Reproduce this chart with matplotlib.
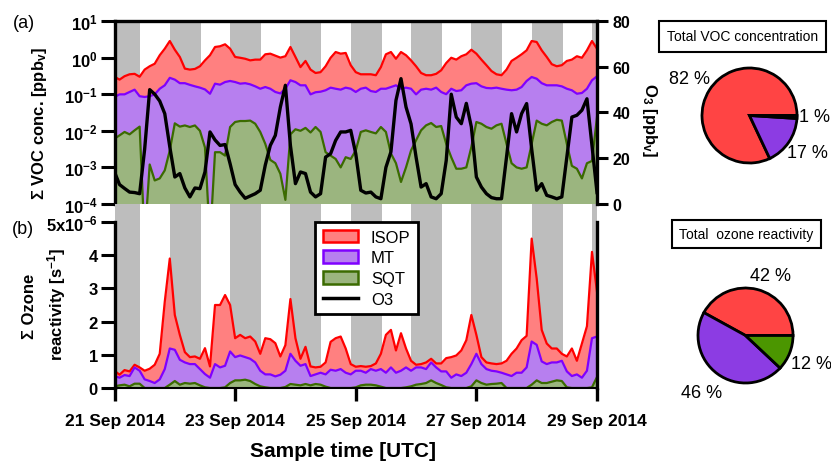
import pandas as pd
import matplotlib
matplotlib.use('Agg')
import matplotlib.pyplot as plt
import matplotlib.dates as mdates
from matplotlib.patches import Patch
from matplotlib.lines import Line2D
from matplotlib.ticker import NullLocator, FixedLocator, FixedFormatter

plt.rcParams['font.family'] = 'Liberation Sans'
plt.rcParams['font.weight'] = 'bold'
plt.rcParams['mathtext.fontset'] = 'custom'
plt.rcParams['mathtext.rm'] = 'Liberation Sans'
plt.rcParams['mathtext.bf'] = 'Liberation Sans:bold'
plt.rcParams['mathtext.default'] = 'bf'

# 2-hourly samples, 21 Sep 2014 00:00 UTC -> 29 Sep 2014 00:00 UTC
times = pd.date_range('2014-09-21 00:00', periods=97, freq='2h')

# (a) total VOC concentration [ppbv]
isop_conc = [0.30, 0.25, 0.31, 0.35, 0.36, 0.30, 0.47, 0.58, 0.68, 1.16, 1.75, 2.84,
             1.64, 1.04, 0.50, 0.47, 0.49, 0.58, 0.84, 1.16, 1.95, 2.04, 2.31, 1.75,
             1.04, 0.99, 0.93, 0.84, 0.88, 0.88, 1.23, 1.28, 1.13, 1.00, 1.09, 1.95,
             1.04, 0.55, 0.81, 0.47, 0.38, 0.40, 0.58, 0.99, 1.42, 1.28, 1.34, 0.62,
             0.40, 0.35, 0.35, 0.35, 0.33, 0.55, 1.23, 1.42, 0.93, 1.42, 1.16, 0.84,
             0.58, 0.38, 0.33, 0.33, 0.36, 0.45, 0.71, 0.99, 0.88, 1.09, 1.23, 1.64,
             1.28, 0.88, 0.62, 0.43, 0.35, 0.33, 0.47, 0.81, 0.99, 1.23, 1.58, 2.84,
             2.67, 1.58, 1.04, 0.66, 0.58, 0.62, 0.81, 0.88, 1.09, 0.99, 1.58, 2.84,
             1.75]
mt_conc = [0.084, 0.099, 0.099, 0.115, 0.133, 0.088, 0.084, 0.088, 0.099, 0.141, 0.175, 0.28,
           0.25, 0.20, 0.20, 0.18, 0.164, 0.151, 0.135, 0.103, 0.194, 0.182, 0.215, 0.23,
           0.215, 0.194, 0.20, 0.186, 0.164, 0.141, 0.157, 0.141, 0.115, 0.105, 0.141, 0.24,
           0.215, 0.175, 0.175, 0.099, 0.113, 0.117, 0.128, 0.151, 0.141, 0.133, 0.151, 0.141,
           0.115, 0.141, 0.151, 0.122, 0.115, 0.141, 0.141, 0.157, 0.175, 0.141, 0.151, 0.141,
           0.099, 0.133, 0.141, 0.133, 0.151, 0.115, 0.10, 0.141, 0.122, 0.128, 0.175, 0.194,
           0.20, 0.164, 0.148, 0.145, 0.151, 0.141, 0.133, 0.128, 0.133, 0.157, 0.23, 0.295,
           0.265, 0.20, 0.175, 0.175, 0.175, 0.164, 0.141, 0.128, 0.103, 0.108, 0.141, 0.24,
           0.308]
sqt_conc = [0.0061, 0.0075, 0.0093, 0.0080, 0.0103, 0.013, 1e-5, 0.0012, 0.00044, 0.0005, 0.00083, 0.0029,
            0.016, 0.013, 0.014, 0.0127, 0.014, 0.010, 0.0035, 1e-5, 0.0026, 0.0026, 0.0021, 0.0127,
            0.0174, 0.0185, 0.0185, 0.019, 0.0156, 0.0093, 0.0044, 0.0016, 0.0013, 0.00067, 0.00013, 0.008,
            0.011, 0.010, 0.012, 0.009, 0.0127, 0.0093, 0.0026, 0.0021, 0.0017, 0.001, 0.0019, 0.0017,
            0.0029, 0.0093, 0.0103, 0.0093, 0.0085, 0.0127, 0.0093, 0.0024, 0.0013, 0.0004, 0.001, 0.0029,
            0.0055, 0.0103, 0.0141, 0.0163, 0.0127, 0.0135, 0.0044, 0.0019, 0.00092, 0.00092, 0.001, 0.0036,
            0.0174, 0.0156, 0.0127, 0.0114, 0.0141, 0.0156, 0.0044, 0.0013, 0.001, 0.00092, 0.001, 0.0044,
            0.019, 0.0156, 0.0141, 0.0174, 0.020, 0.019, 0.0044, 0.0011, 0.00092, 0.0005, 0.0013, 0.0015,
            0.024]
o3 = [14, 8.5, 6.8, 5.2, 5.0, 4.5, 24, 50, 48, 45, 39.5, 25,
      11.8, 13.3, 7, 3.1, 7, 6.7, 14, 31.5, 28, 25.6, 26, 17.6,
      8.5, 5.2, 2.5, 3.5, 4.5, 6, 17, 25.6, 30, 42.4, 51.9, 25.6,
      8.9, 14, 13.3, 5.2, 3.1, 4.5, 20.5, 22, 27.8, 31.5, 31.5, 32.2,
      22, 6, 4.8, 5.2, 3.1, 2.3, 16, 22.8, 45.3, 54.8, 42.4, 35,
      20.5, 7.4, 8.9, 3.1, 2.3, 4.5, 19, 48, 38, 35.1, 44, 33.7,
      11.8, 7.4, 4.5, 2.8, 2.3, 2.3, 20.5, 39.5, 31.5, 39.5, 43.9, 24.1,
      6, 8.9, 3.8, 3.1, 2.3, 3.1, 20.5, 38, 38.8, 41, 46, 25.6,
      5]

# (b) ozone reactivity [1e-6 s-1]
isop_react = [0.52, 0.40, 0.54, 0.50, 0.70, 0.62, 0.52, 0.58, 0.70, 1.03, 2.6, 3.9,
              2.2, 1.6, 1.08, 0.93, 0.95, 0.88, 1.2, 0.65, 2.5, 2.5, 2.8, 2.5,
              1.5, 1.6, 1.5, 1.55, 1.4, 1.03, 1.5, 1.47, 1.35, 0.95, 1.29, 2.68,
              1.5, 0.88, 1.24, 0.65, 0.62, 0.64, 0.77, 1.39, 1.5, 1.55, 1.19, 0.72,
              0.64, 0.66, 0.64, 0.66, 0.74, 1.03, 1.6, 1.75, 1.13, 1.65, 1.19, 0.82,
              0.70, 0.72, 0.77, 0.88, 0.74, 0.74, 0.9, 0.93, 0.98, 1.13, 1.44, 2.2,
              1.6, 0.93, 0.77, 0.74, 0.72, 0.74, 0.82, 1.03, 1.19, 1.44, 1.57, 4.5,
              3.3, 1.75, 1.34, 1.19, 1.19, 1.03, 0.95, 1.19, 0.82, 1.34, 1.86, 4.1,
              2.9]
mt_react = [0.36, 0.31, 0.39, 0.36, 0.62, 0.52, 0.26, 0.21, 0.15, 0.26, 0.57, 1.19,
            1.15, 0.85, 0.77, 0.72, 0.72, 0.57, 0.42, 0.31, 0.72, 0.62, 0.67, 1.1,
            0.93, 0.98, 0.93, 0.88, 0.77, 0.52, 0.41, 0.41, 0.35, 0.40, 0.52, 1.03,
            0.82, 0.67, 0.72, 0.36, 0.41, 0.46, 0.41, 0.55, 0.52, 0.57, 0.46, 0.41,
            0.52, 0.52, 0.46, 0.57, 0.52, 0.57, 0.46, 0.62, 0.46, 0.52, 0.62, 0.52,
            0.62, 0.62, 0.57, 0.77, 0.62, 0.5, 0.5, 0.31, 0.41, 0.36, 0.46, 0.72,
            1.03, 0.72, 0.57, 0.52, 0.5, 0.46, 0.41, 0.36, 0.46, 0.46, 0.62, 1.4,
            1.3, 0.8, 0.72, 0.77, 0.77, 0.82, 0.5, 0.36, 0.41, 0.31, 0.52, 1.5,
            1.55]
sqt_react = [0.05, 0.08, 0.1, 0.05, 0.13, 0.13, 0.0, 0.0, 0.0, 0.0, 0.0, 0.1,
             0.21, 0.1, 0.15, 0.13, 0.15, 0.08, 0.02, 0.0, 0.0, 0.0, 0.02, 0.15,
             0.23, 0.23, 0.25, 0.21, 0.12, 0.05, 0.02, 0.0, 0.0, 0.0, 0.03, 0.12,
             0.1, 0.08, 0.12, 0.08, 0.12, 0.1, 0.04, 0.0, 0.0, 0.0, 0.0, 0.0,
             0.02, 0.08, 0.1, 0.1, 0.08, 0.04, 0.0, 0.0, 0.0, 0.0, 0.02, 0.05,
             0.1, 0.12, 0.15, 0.23, 0.15, 0.09, 0.02, 0.0, 0.0, 0.0, 0.0, 0.05,
             0.23, 0.15, 0.1, 0.12, 0.13, 0.15, 0.0, 0.0, 0.0, 0.0, 0.0, 0.1,
             0.23, 0.15, 0.15, 0.19, 0.23, 0.21, 0.02, 0.0, 0.0, 0.0, 0.0, 0.02,
             0.33]

# pie shares [%]: ISOP, MT, SQT
voc_share = [82, 17, 1]
react_share = [42, 46, 12]

night_start_h, night_end_h = 22.0, 10.3  # UTC

red_line, red_fill = '#FF0000', '#FF8080'
mt_line, mt_fill = '#7F00FF', '#B77FEF'
sqt_line, sqt_fill = '#3B6B00', '#9BB57F'
gray = '#BDBDBD'
pie_colors = ['#FF4444', '#8C3CE3', '#4B9600']

W, H = 831, 464
fig = plt.figure(figsize=(W / 100, H / 100), dpi=100)


def box(l, t, r, b):
    return [l / W, 1 - b / H, (r - l) / W, (b - t) / H]


ax1 = fig.add_axes(box(114.5, 22, 597, 205))
ax2 = fig.add_axes(box(114.5, 205, 597, 389))

t0 = times[0]
for d in range(-1, 9):
    a = t0 + pd.Timedelta(days=d, hours=night_start_h)
    b = t0 + pd.Timedelta(days=d + 1, hours=night_end_h)
    for ax in (ax1, ax2):
        ax.axvspan(a, b, color=gray, lw=0, zorder=0)

# top panel
for vals, lc, fc in [(isop_conc, red_line, red_fill), (mt_conc, mt_line, mt_fill),
                     (sqt_conc, sqt_line, sqt_fill)]:
    ax1.fill_between(times, 1e-6, vals, color=fc, lw=0, zorder=1)
    ax1.plot(times, vals, color=lc, lw=1.6, zorder=2)
ax1.set_yscale('log')
ax1.set_ylim(1e-4, 10)
ax1.set_yticks([1e-4, 1e-3, 1e-2, 1e-1, 1, 10])
ax1.yaxis.set_minor_locator(NullLocator())
ax1.set_xlim(times[0], times[-1])
ax1.tick_params(axis='x', bottom=False, labelbottom=False)
ax1.tick_params(axis='y', direction='out', length=10, width=2.2, labelsize=12, pad=2)
ax1.spines['bottom'].set_visible(False)
ax1.spines['right'].set_visible(False)
ax1.spines['top'].set_linewidth(2.4)
ax1.spines['left'].set_linewidth(2.4)

ax3 = ax1.twinx()
ax3.plot(times, o3, color='black', lw=2.4)
ax3.set_ylim(0, 80)
ax3.set_yticks([0, 20, 40, 60, 80])
ax3.set_xlim(times[0], times[-1])
ax3.tick_params(axis='y', direction='out', length=8, width=2.2, labelsize=11.5, pad=3)
for s in ['top', 'bottom', 'left']:
    ax3.spines[s].set_visible(False)
ax3.spines['right'].set_linewidth(2.4)

# bottom panel
for vals, lc, fc in [(isop_react, red_line, red_fill), (mt_react, mt_line, mt_fill),
                     (sqt_react, sqt_line, sqt_fill)]:
    ax2.fill_between(times, 0, vals, color=fc, lw=0, zorder=1)
    ax2.plot(times, vals, color=lc, lw=1.6, zorder=2)
ax2.set_ylim(0, 5 * (389 - 205) / (389 - 223))
ax2.yaxis.set_major_locator(FixedLocator([0, 1, 2, 3, 4, 5]))
ax2.yaxis.set_major_formatter(FixedFormatter(['0', '1', '2', '3', '4', '5x10$^{-6}$']))
ax2.set_xlim(times[0], times[-1])
ax2.xaxis.set_major_locator(mdates.DayLocator(bymonthday=[21, 23, 25, 27, 29]))
ax2.xaxis.set_major_formatter(mdates.DateFormatter('%d %b %Y'))
ax2.tick_params(axis='y', direction='out', length=10, width=2.2, labelsize=12, pad=2)
ax2.tick_params(axis='x', direction='out', length=9, width=2.4, labelsize=12.5, pad=9)
ax2.spines['top'].set_visible(False)
ax2.spines['left'].set_bounds(0, 5)
ax2.spines['right'].set_bounds(0, 5)
ax2.spines['left'].set_linewidth(2.4)
ax2.spines['right'].set_linewidth(2.4)
ax2.spines['bottom'].set_linewidth(1.5)

handles = [Patch(facecolor=red_fill, edgecolor=red_line, lw=1.8, label='ISOP'),
           Patch(facecolor=mt_fill, edgecolor=mt_line, lw=1.8, label='MT'),
           Patch(facecolor=sqt_fill, edgecolor=sqt_line, lw=1.8, label='SQT'),
           Line2D([], [], color='black', lw=2.5, label='O3')]
leg = ax2.legend(handles=handles, loc='upper left',
                 bbox_to_anchor=((315 - 114.5) / 482.5, (389 - 223) / 184),
                 borderaxespad=0, frameon=True, fancybox=False, edgecolor='black',
                 framealpha=1, prop={'size': 12, 'weight': 'normal'},
                 handlelength=2.1, handleheight=0.8, borderpad=0.45,
                 labelspacing=0.33, handletextpad=0.8)
leg.get_frame().set_linewidth(2)
leg.set_zorder(5)

# text labels
fig.text(24 / W, 1 - 23 / H, '(a)', ha='center', va='center', fontsize=13, weight='normal')
fig.text(23 / W, 1 - 230 / H, '(b)', ha='center', va='center', fontsize=13, weight='normal')
fig.text(40 / W, 1 - 124 / H, 'Σ VOC conc. [ppb$_v$]', rotation=90, ha='center', va='center', fontsize=12)
fig.text(650 / W, 1 - 120 / H, 'O$_3$ [ppb$_v$]', rotation=270, ha='center', va='center', fontsize=12)
fig.text(29 / W, 1 - 306 / H, 'Σ Ozone', rotation=90, ha='center', va='center', fontsize=12)
fig.text(57 / W, 1 - 305 / H, 'reactivity [s$^{-1}$]', rotation=90, ha='center', va='center', fontsize=12)
fig.text(343 / W, 1 - 452 / H, 'Sample time [UTC]', ha='center', va='center', fontsize=15)

fig.text(742.5 / W, 1 - 37.5 / H, 'Total VOC concentration', ha='center', va='center',
         fontsize=10, weight='normal',
         bbox=dict(boxstyle='square,pad=0.6', fc='white', ec='black', lw=1.5))
fig.text(746.5 / W, 1 - 235 / H, 'Total  ozone reactivity', ha='center', va='center',
         fontsize=10, weight='normal',
         bbox=dict(boxstyle='square,pad=0.5', fc='white', ec='black', lw=1.5))

# pies, with the percentage labels placed where the reference has them
voc_label_pos = [(-1.27, 0.77), (1.22, -0.78), (1.37, -0.03)]
react_label_pos = [(0.52, 1.27), (-0.93, -1.19), (1.38, -0.59)]
for share, cx, cy, lpos in [(voc_share, 749.5, 116.5, voc_label_pos),
                            (react_share, 745.5, 336.5, react_label_pos)]:
    r = 47.5 * 1.25
    pax = fig.add_axes(box(cx - r, cy - r, cx + r, cy + r))
    pax.pie(share, colors=pie_colors, startangle=0, counterclock=True,
            wedgeprops=dict(edgecolor='black', linewidth=2))
    for v, (lx, ly) in zip(share, lpos):
        pax.text(lx, ly, f'{v} %', ha='center', va='center', fontsize=13,
                 weight='normal', clip_on=False)

fig.savefig('out.png', dpi=100)
